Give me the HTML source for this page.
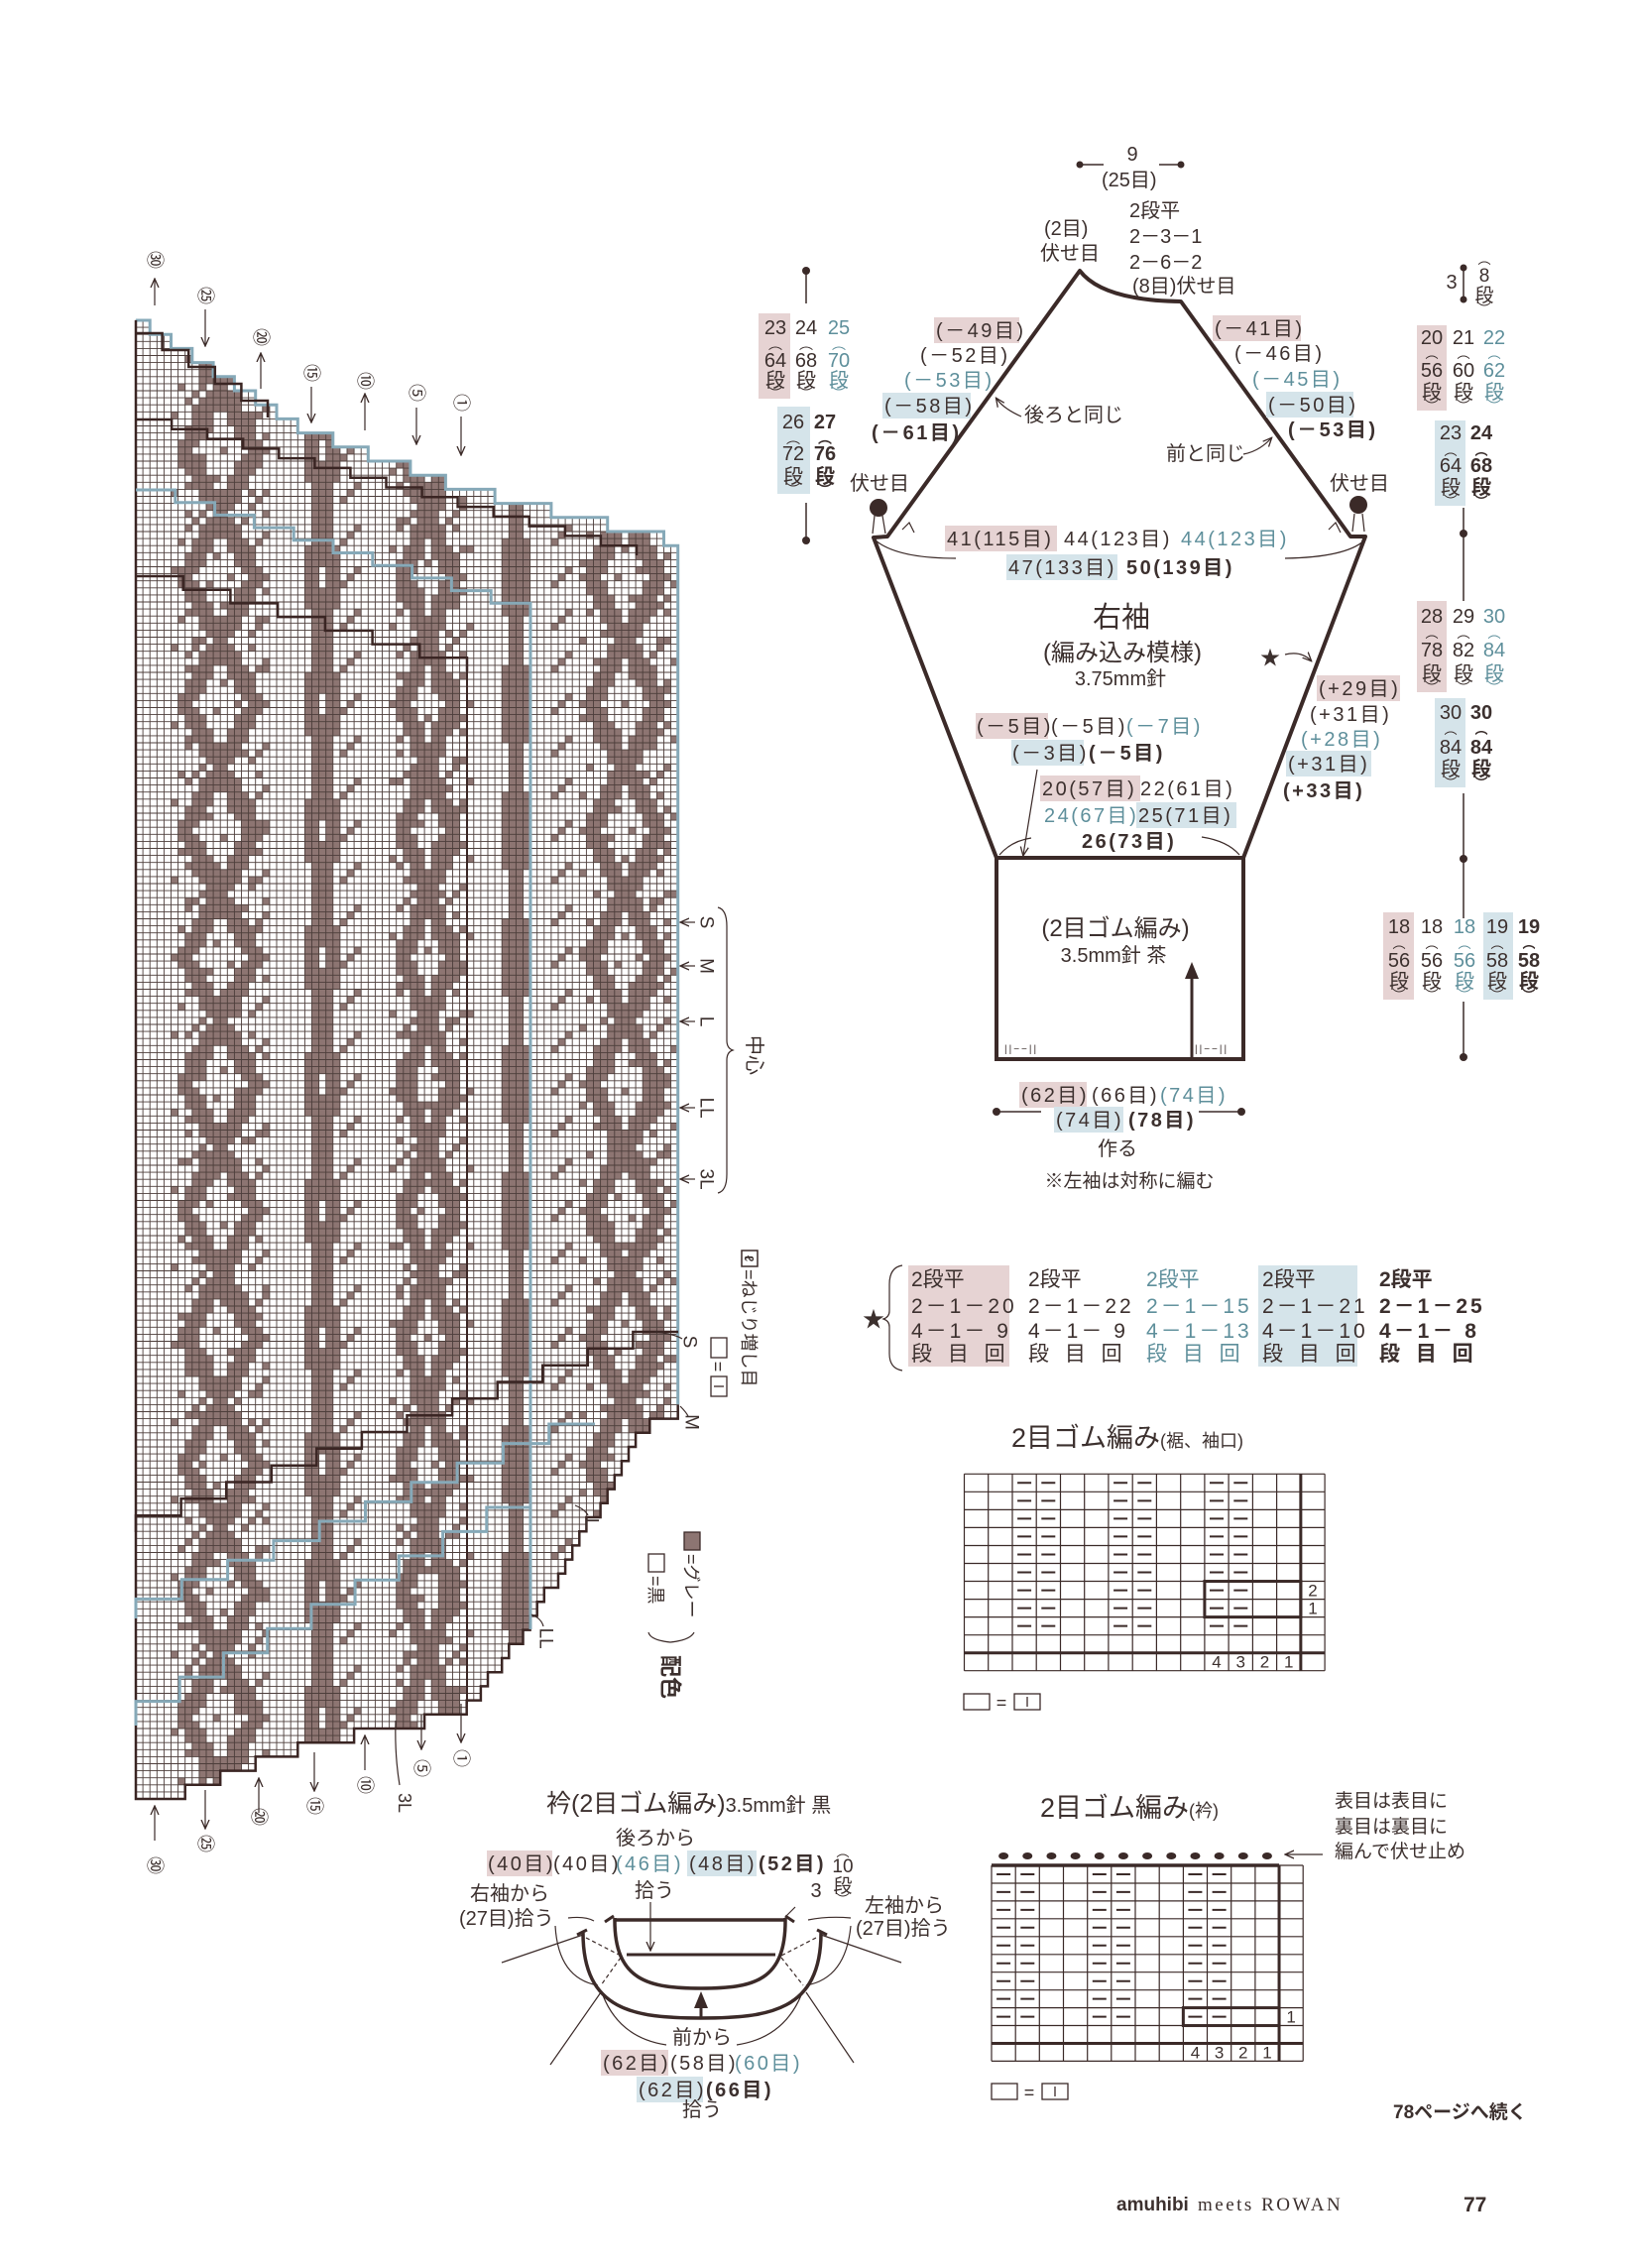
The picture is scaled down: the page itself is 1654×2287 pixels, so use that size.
<!DOCTYPE html>
<html><head><meta charset="utf-8">
<style>
html,body{margin:0;padding:0;background:#fff;}
svg{display:block;font-family:"Liberation Sans","Noto Sans CJK JP",sans-serif;font-size:20px;}
text{fill:#3c302e;}
.b{font-weight:bold;}
.bl{fill:#5e8f9b;}
.ls{letter-spacing:2.5px;}
.pk{fill:#e6d3d3;}
.bb{fill:#d5e4ea;}
.ln{stroke:#3b2a28;fill:none;}
.thin{stroke:#3b2a28;fill:none;stroke-width:1.2;}
.st{letter-spacing:3px;}
</style></head>
<body>
<svg id="pg" width="1654" height="2287" viewBox="0 0 1654 2287" xmlns="http://www.w3.org/2000/svg" font-size="20">
<defs>
<marker id="ah" markerWidth="10" markerHeight="10" refX="8" refY="5" orient="auto" markerUnits="userSpaceOnUse"><path d="M0,1 L9,5 L0,9" fill="none" stroke="#3b2a28" stroke-width="1.3"/></marker>
</defs>
<g id="chart"></g>

<g id="clabels">
<text transform="translate(156,262) rotate(90)" text-anchor="middle" dominant-baseline="central" font-size="18">㉚</text>
<text transform="translate(207,298) rotate(90)" text-anchor="middle" dominant-baseline="central" font-size="18">㉕</text>
<text transform="translate(263,340) rotate(90)" text-anchor="middle" dominant-baseline="central" font-size="18">⑳</text>
<text transform="translate(314,376) rotate(90)" text-anchor="middle" dominant-baseline="central" font-size="18">⑮</text>
<text transform="translate(368,384) rotate(90)" text-anchor="middle" dominant-baseline="central" font-size="18">⑩</text>
<text transform="translate(420,396) rotate(90)" text-anchor="middle" dominant-baseline="central" font-size="18">⑤</text>
<text transform="translate(465,406) rotate(90)" text-anchor="middle" dominant-baseline="central" font-size="18">①</text>
<line class="thin" x1="156" y1="308" x2="156" y2="282" marker-end="url(#ah)"/>
<line class="thin" x1="207" y1="312" x2="207" y2="348" marker-end="url(#ah)"/>
<line class="thin" x1="263" y1="392" x2="263" y2="357" marker-end="url(#ah)"/>
<line class="thin" x1="314" y1="390" x2="314" y2="425" marker-end="url(#ah)"/>
<line class="thin" x1="368" y1="434" x2="368" y2="398" marker-end="url(#ah)"/>
<line class="thin" x1="420" y1="411" x2="420" y2="447" marker-end="url(#ah)"/>
<line class="thin" x1="465" y1="420" x2="465" y2="458" marker-end="url(#ah)"/>

<text transform="translate(156,1881) rotate(90)" text-anchor="middle" dominant-baseline="central" font-size="18">㉚</text>
<text transform="translate(207,1859) rotate(90)" text-anchor="middle" dominant-baseline="central" font-size="18">㉕</text>
<text transform="translate(261,1832) rotate(90)" text-anchor="middle" dominant-baseline="central" font-size="18">⑳</text>
<text transform="translate(317,1821) rotate(90)" text-anchor="middle" dominant-baseline="central" font-size="18">⑮</text>
<text transform="translate(368,1800) rotate(90)" text-anchor="middle" dominant-baseline="central" font-size="18">⑩</text>
<text transform="translate(408,1818) rotate(90)" text-anchor="middle" dominant-baseline="central" font-size="18">3L</text>
<text transform="translate(425,1783) rotate(90)" text-anchor="middle" dominant-baseline="central" font-size="18">⑤</text>
<text transform="translate(465,1773) rotate(90)" text-anchor="middle" dominant-baseline="central" font-size="18">①</text>
<line class="thin" x1="156" y1="1856" x2="156" y2="1822" marker-end="url(#ah)"/>
<line class="thin" x1="207" y1="1805" x2="207" y2="1843" marker-end="url(#ah)"/>
<line class="thin" x1="261" y1="1828" x2="261" y2="1794" marker-end="url(#ah)"/>
<line class="thin" x1="317" y1="1767" x2="317" y2="1805" marker-end="url(#ah)"/>
<line class="thin" x1="368" y1="1785" x2="368" y2="1751" marker-end="url(#ah)"/>
<path class="thin" d="M403,1800 Q398,1770 399,1735"/>
<line class="thin" x1="425" y1="1729" x2="425" y2="1763" marker-end="url(#ah)"/>
<line class="thin" x1="465" y1="1718" x2="465" y2="1756" marker-end="url(#ah)"/>

<line class="thin" x1="701" y1="930" x2="687" y2="930" marker-end="url(#ah)"/>
<line class="thin" x1="701" y1="974" x2="687" y2="974" marker-end="url(#ah)"/>
<line class="thin" x1="701" y1="1030" x2="687" y2="1030" marker-end="url(#ah)"/>
<line class="thin" x1="701" y1="1117" x2="687" y2="1117" marker-end="url(#ah)"/>
<line class="thin" x1="701" y1="1189" x2="687" y2="1189" marker-end="url(#ah)"/>
<text transform="translate(712,930) rotate(90)" text-anchor="middle" dominant-baseline="central" font-size="19">S</text>
<text transform="translate(712,974) rotate(90)" text-anchor="middle" dominant-baseline="central" font-size="19">M</text>
<text transform="translate(712,1030) rotate(90)" text-anchor="middle" dominant-baseline="central" font-size="19">L</text>
<text transform="translate(712,1117) rotate(90)" text-anchor="middle" dominant-baseline="central" font-size="19">LL</text>
<text transform="translate(712,1189) rotate(90)" text-anchor="middle" dominant-baseline="central" font-size="19">3L</text>
<path class="thin" d="M724,915 Q733,917 733,934 L733,1049 Q733,1057 739,1059 Q733,1061 733,1069 L733,1184 Q733,1201 724,1203"/>
<text transform="translate(760,1064) rotate(90)" text-anchor="middle" dominant-baseline="central" font-size="20">中心</text>

<path class="thin" d="M660,1343 Q680,1345 688,1350"/>
<text transform="translate(695,1353) rotate(90)" text-anchor="middle" dominant-baseline="central" font-size="19">S</text>
<g transform="translate(725,1382) rotate(90)">
<rect x="-33" y="-8" width="20" height="16" fill="none" stroke="#3b2a28" stroke-width="1.3"/>
<text x="-4" y="7" text-anchor="middle" font-size="18">=</text>
<rect x="6" y="-8" width="20" height="16" fill="none" stroke="#3b2a28" stroke-width="1.3"/>
<line x1="16" y1="-5" x2="16" y2="5" stroke="#3b2a28" stroke-width="1.3"/>
</g>
<g transform="translate(756,1338) rotate(90)">
<rect x="-77" y="-8" width="16" height="16" fill="none" stroke="#3b2a28" stroke-width="1.5"/>
<text x="-69" y="5" text-anchor="middle" font-size="13" class="b">ℓ</text>
<text x="-58" y="7" font-size="18">=ねじり増し目</text>
</g>
<path class="thin" d="M686,1418 Q692,1424 694,1428"/>
<text transform="translate(697,1434) rotate(90)" text-anchor="middle" dominant-baseline="central" font-size="19">M</text>
<path class="thin" d="M580,1518 Q590,1522 593,1528"/>
<text transform="translate(596,1536) rotate(90)" text-anchor="middle" dominant-baseline="central" font-size="19">L</text>
<path class="thin" d="M536,1628 Q546,1632 548,1640"/>
<text transform="translate(550,1652) rotate(90)" text-anchor="middle" dominant-baseline="central" font-size="19">LL</text>

<g transform="translate(662,1605) rotate(90)">
<rect x="-38" y="-8" width="18" height="16" fill="none" stroke="#3b2a28" stroke-width="1.3"/>
<text x="-16" y="7" font-size="18">=黒</text>
</g>
<g transform="translate(698,1594) rotate(90)">
<rect x="-49" y="-8" width="18" height="16" fill="#8d7572" stroke="#3b2a28" stroke-width="1.3"/>
<text x="-27" y="7" font-size="18">=グレー</text>
</g>
<path class="thin" d="M654,1646 Q656,1654 676,1656 Q696,1654 700,1646"/>
<text transform="translate(676,1691) rotate(90)" text-anchor="middle" dominant-baseline="central" font-size="22" class="b">配色</text>
</g>

<circle cx="813" cy="273" r="4" fill="#3b2a28"/><line class="ln" x1="813" y1="273" x2="813" y2="306" stroke-width="1.5"/>
<line class="ln" x1="813" y1="507" x2="813" y2="545" stroke-width="1.5"/><circle cx="813" cy="545" r="4" fill="#3b2a28"/>
<rect class="pk" x="765" y="316" width="32" height="86"/>
<rect class="bb" x="784" y="410" width="33" height="88"/>
<g font-size="20" text-anchor="middle">
<text x="782" y="337">23</text><text x="782" y="352" font-size="14">︵</text><text x="782" y="370">64</text><text x="782" y="390">段</text><text x="782" y="402" font-size="14">︶</text>
<text x="813" y="337">24</text><text x="813" y="352" font-size="14">︵</text><text x="813" y="370">68</text><text x="813" y="390">段</text><text x="813" y="402" font-size="14">︶</text>
<text x="846" y="337" class="bl">25</text><text x="846" y="352" font-size="14" class="bl">︵</text><text x="846" y="370" class="bl">70</text><text x="846" y="390" class="bl">段</text><text x="846" y="402" font-size="14" class="bl">︶</text>
<text x="800" y="432">26</text><text x="800" y="447" font-size="14">︵</text><text x="800" y="464">72</text><text x="800" y="487">段</text><text x="800" y="499" font-size="14">︶</text>
<text x="832" y="432" class="b">27</text><text x="832" y="447" font-size="14" class="b">︵</text><text x="832" y="464" class="b">76</text><text x="832" y="487" class="b">段</text><text x="832" y="499" font-size="14" class="b">︶</text>
</g>

<circle cx="1089" cy="166" r="3.5" fill="#3b2a28"/><line class="ln" x1="1089" y1="166" x2="1113" y2="166" stroke-width="1.5"/>
<circle cx="1191" cy="166" r="3.5" fill="#3b2a28"/><line class="ln" x1="1169" y1="166" x2="1191" y2="166" stroke-width="1.5"/>
<text x="1142" y="162" text-anchor="middle">9</text>
<text x="1111" y="188">(25目)</text>
<text x="1053" y="237">(2目)</text>
<text x="1049" y="262">伏せ目</text>
<text x="1139" y="219">2段平</text>
<text x="1139" y="245">2－3－1</text>
<text x="1139" y="271">2－6－2</text>
<text x="1142" y="295">(8目)伏せ目</text>

<path class="ln" stroke-width="4" stroke-linejoin="round" d="M881,542 L895,541 L1089,273 Q1112,303 1191,304 L1362,541 L1377,541 L1254,865 L1005,865 Z"/>
<rect class="ln" stroke-width="4" x="1005" y="865" width="249" height="203"/>
<circle cx="886" cy="512" r="9" fill="#3b2a28"/><circle cx="1370" cy="509" r="9" fill="#3b2a28"/>
<path class="thin" d="M882,520 L880,538 M890,520 L893,538 M1366,518 L1364,536 M1374,518 L1376,536"/>
<path class="thin" d="M883,545 Q905,563 964,563"/>
<path class="thin" d="M1296,563 Q1357,562 1376,545"/>
<path class="thin" d="M910,534 L917,527 L922,537 M1340,534 L1347,527 L1352,537"/>
<path class="thin" d="M1030,420 Q1012,412 1005,402" marker-end="url(#ah)"/>
<path class="thin" d="M1254,458 Q1270,455 1282,442" marker-end="url(#ah)"/>
<path class="thin" d="M1296,660 Q1312,656 1322,666" marker-end="url(#ah)"/>
<path class="thin" d="M1046,776 L1032,862" marker-end="url(#ah)"/>
<path class="thin" d="M1008,862 Q1020,848 1040,845 M1212,844 Q1238,848 1250,862"/>

<g class="ls">
<rect class="pk" x="942" y="320" width="86" height="26"/><text x="944" y="340">(－49目)</text>
<text x="928" y="365">(－52目)</text>
<text x="912" y="390" class="bl">(－53目)</text>
<rect class="bb" x="890" y="396" width="89" height="26"/><text x="892" y="416">(－58目)</text>
<text x="879" y="443" class="b">(－61目)</text>
<rect class="pk" x="1223" y="318" width="89" height="26"/><text x="1225" y="338">(－41目)</text>
<text x="1245" y="363">(－46目)</text>
<text x="1263" y="389" class="bl">(－45目)</text>
<rect class="bb" x="1277" y="395" width="88" height="26"/><text x="1279" y="415">(－50目)</text>
<text x="1299" y="440" class="b">(－53目)</text>
<rect class="pk" x="953" y="530" width="113" height="26"/><text x="955" y="550">41(115目)</text>
<text x="1073" y="550">44(123目)</text>
<text x="1191" y="550" class="bl">44(123目)</text>
<rect class="bb" x="1015" y="559" width="112" height="26"/><text x="1017" y="579">47(133目)</text>
<text x="1136" y="579" class="b">50(139目)</text>
<rect class="pk" x="1328" y="681" width="84" height="26"/><text x="1330" y="701">(+29目)</text>
<text x="1321" y="727">(+31目)</text>
<text x="1312" y="752" class="bl">(+28目)</text>
<rect class="bb" x="1297" y="757" width="86" height="26"/><text x="1299" y="777">(+31目)</text>
<text x="1294" y="804" class="b">(+33目)</text>
<rect class="pk" x="984" y="719" width="73" height="26"/><text x="985" y="739">(－5目)</text>
<text x="1060" y="739">(－5目)</text>
<text x="1136" y="739" class="bl">(－7目)</text>
<rect class="bb" x="1020" y="746" width="73" height="26"/><text x="1021" y="766">(－3目)</text>
<text x="1098" y="766" class="b">(－5目)</text>
<rect class="pk" x="1049" y="782" width="101" height="26"/><text x="1051" y="802">20(57目)</text>
<text x="1150" y="802">22(61目)</text>
<text x="1053" y="829" class="bl">24(67目)</text>
<rect class="bb" x="1146" y="809" width="101" height="26"/><text x="1148" y="829">25(71目)</text>
<text x="1091" y="855" class="b">26(73目)</text>
</g>
<text x="1033" y="425">後ろと同じ</text>
<text x="1176" y="464">前と同じ</text>
<text x="857" y="494">伏せ目</text>
<text x="1341" y="494">伏せ目</text>
<text x="1131" y="632" text-anchor="middle" font-size="29">右袖</text>
<text x="1132" y="666" text-anchor="middle" font-size="24">(編み込み模様)</text>
<text x="1130" y="691" text-anchor="middle">3.75mm針</text>
<text x="1281" y="670" text-anchor="middle">★</text>

<text x="1125" y="944" text-anchor="middle" font-size="24">(2目ゴム編み)</text>
<text x="1123" y="970" text-anchor="middle">3.5mm針 茶</text>
<line class="ln" x1="1202" y1="1066" x2="1202" y2="985" stroke-width="3"/>
<path d="M1195,987 L1202,970 L1209,987 Z" fill="#3b2a28"/>
<text x="1013" y="1061" font-size="10" letter-spacing="2">||−−||</text>
<text x="1205" y="1061" font-size="10" letter-spacing="2">||−−||</text>

<circle cx="1005" cy="1121" r="4" fill="#3b2a28"/><line class="ln" x1="1005" y1="1121" x2="1050" y2="1121" stroke-width="1.5"/>
<circle cx="1252" cy="1121" r="4" fill="#3b2a28"/><line class="ln" x1="1209" y1="1121" x2="1252" y2="1121" stroke-width="1.5"/>
<g class="ls">
<rect class="pk" x="1028" y="1091" width="68" height="26"/><text x="1030" y="1111">(62目)</text>
<text x="1101" y="1111">(66目)</text>
<text x="1170" y="1111" class="bl">(74目)</text>
<rect class="bb" x="1063" y="1116" width="70" height="26"/><text x="1065" y="1136">(74目)</text>
<text x="1138" y="1136" class="b">(78目)</text>
</g>
<text x="1127" y="1165" text-anchor="middle">作る</text>
<text x="1139" y="1197" text-anchor="middle" font-size="19">※左袖は対称に編む</text>

<g stroke="#3b2a28" stroke-width="1.5">
<line x1="1476" y1="270" x2="1476" y2="304"/>
<line x1="1476" y1="512" x2="1476" y2="606"/>
<line x1="1476" y1="800" x2="1476" y2="926"/>
<line x1="1476" y1="1010" x2="1476" y2="1066"/>
</g>
<g fill="#3b2a28"><circle cx="1476" cy="270" r="3.5"/><circle cx="1476" cy="302" r="3.5"/><circle cx="1476" cy="538" r="4"/><circle cx="1476" cy="866" r="4"/><circle cx="1476" cy="1066" r="4"/></g>
<text x="1464" y="291" text-anchor="middle">3</text>
<g text-anchor="middle" font-size="19">
<text x="1497" y="266" font-size="13">︵</text><text x="1497" y="284">8</text><text x="1497" y="304">段</text><text x="1497" y="316" font-size="13">︶</text>
</g>
<rect class="pk" x="1429" y="328" width="30" height="86"/>
<rect class="bb" x="1447" y="424" width="31" height="86"/>
<rect class="pk" x="1429" y="606" width="30" height="92"/>
<rect class="bb" x="1447" y="704" width="31" height="90"/>
<rect class="pk" x="1395" y="920" width="31" height="88"/>
<rect class="bb" x="1496" y="920" width="30" height="88"/>
<g text-anchor="middle" font-size="20">
<text x="1444" y="347">20</text><text x="1444" y="361" font-size="13">︵</text><text x="1444" y="380">56</text><text x="1444" y="402">段</text><text x="1444" y="414" font-size="13">︶</text>
<text x="1476" y="347">21</text><text x="1476" y="361" font-size="13">︵</text><text x="1476" y="380">60</text><text x="1476" y="402">段</text><text x="1476" y="414" font-size="13">︶</text>
<text x="1507" y="347" class="bl">22</text><text x="1507" y="361" font-size="13" class="bl">︵</text><text x="1507" y="380" class="bl">62</text><text x="1507" y="402" class="bl">段</text><text x="1507" y="414" font-size="13" class="bl">︶</text>
<text x="1463" y="443">23</text><text x="1463" y="459" font-size="13">︵</text><text x="1463" y="476">64</text><text x="1463" y="498">段</text><text x="1463" y="510" font-size="13">︶</text>
<text x="1494" y="443" class="b">24</text><text x="1494" y="459" font-size="13" class="b">︵</text><text x="1494" y="476" class="b">68</text><text x="1494" y="498" class="b">段</text><text x="1494" y="510" font-size="13" class="b">︶</text>
<text x="1444" y="628">28</text><text x="1444" y="643" font-size="13">︵</text><text x="1444" y="662">78</text><text x="1444" y="686">段</text><text x="1444" y="698" font-size="13">︶</text>
<text x="1476" y="628">29</text><text x="1476" y="643" font-size="13">︵</text><text x="1476" y="662">82</text><text x="1476" y="686">段</text><text x="1476" y="698" font-size="13">︶</text>
<text x="1507" y="628" class="bl">30</text><text x="1507" y="643" font-size="13" class="bl">︵</text><text x="1507" y="662" class="bl">84</text><text x="1507" y="686" class="bl">段</text><text x="1507" y="698" font-size="13" class="bl">︶</text>
<text x="1463" y="725">30</text><text x="1463" y="740" font-size="13">︵</text><text x="1463" y="760">84</text><text x="1463" y="782">段</text><text x="1463" y="794" font-size="13">︶</text>
<text x="1494" y="725" class="b">30</text><text x="1494" y="740" font-size="13" class="b">︵</text><text x="1494" y="760" class="b">84</text><text x="1494" y="782" class="b">段</text><text x="1494" y="794" font-size="13" class="b">︶</text>
<text x="1411" y="941">18</text><text x="1411" y="956" font-size="13">︵</text><text x="1411" y="975">56</text><text x="1411" y="996">段</text><text x="1411" y="1008" font-size="13">︶</text>
<text x="1444" y="941">18</text><text x="1444" y="956" font-size="13">︵</text><text x="1444" y="975">56</text><text x="1444" y="996">段</text><text x="1444" y="1008" font-size="13">︶</text>
<text x="1477" y="941" class="bl">18</text><text x="1477" y="956" font-size="13" class="bl">︵</text><text x="1477" y="975" class="bl">56</text><text x="1477" y="996" class="bl">段</text><text x="1477" y="1008" font-size="13" class="bl">︶</text>
<text x="1510" y="941">19</text><text x="1510" y="956" font-size="13">︵</text><text x="1510" y="975">58</text><text x="1510" y="996">段</text><text x="1510" y="1008" font-size="13">︶</text>
<text x="1542" y="941" class="b">19</text><text x="1542" y="956" font-size="13" class="b">︵</text><text x="1542" y="975" class="b">58</text><text x="1542" y="996" class="b">段</text><text x="1542" y="1008" font-size="13" class="b">︶</text>
</g>

<rect class="pk" x="916" y="1276" width="102" height="102"/>
<rect class="bb" x="1269" y="1276" width="100" height="102"/>
<text x="881" y="1338" text-anchor="middle" font-size="22">★</text>
<path class="thin" d="M910,1276 Q897,1278 897,1295 L897,1322 Q897,1328 891,1330 Q897,1332 897,1338 L897,1365 Q897,1380 910,1382"/>
<g font-size="21">
<text x="919" y="1297">2段平</text><text x="919" y="1324" class="st">2－1－20</text><text x="919" y="1349" class="st">4－1－ 9</text><text x="919" y="1372" word-spacing="10">段 目 回</text>
<text x="1037" y="1297">2段平</text><text x="1037" y="1324" class="st">2－1－22</text><text x="1037" y="1349" class="st">4－1－ 9</text><text x="1037" y="1372" word-spacing="10">段 目 回</text>
<text x="1156" y="1297" class="bl">2段平</text><text x="1156" y="1324" class="bl st">2－1－15</text><text x="1156" y="1349" class="bl st">4－1－13</text><text x="1156" y="1372" class="bl" word-spacing="10">段 目 回</text>
<text x="1273" y="1297">2段平</text><text x="1273" y="1324" class="st">2－1－21</text><text x="1273" y="1349" class="st">4－1－10</text><text x="1273" y="1372" word-spacing="10">段 目 回</text>
<text x="1391" y="1297" class="b">2段平</text><text x="1391" y="1324" class="b st">2－1－25</text><text x="1391" y="1349" class="b st">4－1－ 8</text><text x="1391" y="1372" class="b" word-spacing="10">段 目 回</text>
</g>

<text x="1020" y="1459" font-size="27">2目ゴム編み<tspan font-size="18">(裾、袖口)</tspan></text>
<g id="rib1"></g>
<g transform="translate(972,1716)">
<rect x="0" y="-8" width="26" height="16" fill="none" stroke="#3b2a28" stroke-width="1.3"/>
<text x="38" y="7" text-anchor="middle" font-size="18">=</text>
<rect x="51" y="-8" width="26" height="16" fill="none" stroke="#3b2a28" stroke-width="1.3"/>
<line x1="64" y1="-5" x2="64" y2="5" stroke="#3b2a28" stroke-width="1.3"/>
</g>
<text x="1049" y="1832" font-size="27">2目ゴム編み<tspan font-size="18">(衿)</tspan></text>
<text x="1346" y="1822" font-size="19">表目は表目に</text>
<text x="1346" y="1848" font-size="19">裏目は裏目に</text>
<text x="1346" y="1873" font-size="19">編んで伏せ止め</text>
<line class="thin" x1="1334" y1="1870" x2="1297" y2="1870" marker-end="url(#ah)"/>
<g id="rib2"></g>
<g transform="translate(1000,2109)">
<rect x="0" y="-8" width="26" height="16" fill="none" stroke="#3b2a28" stroke-width="1.3"/>
<text x="38" y="7" text-anchor="middle" font-size="18">=</text>
<rect x="51" y="-8" width="26" height="16" fill="none" stroke="#3b2a28" stroke-width="1.3"/>
<line x1="64" y1="-5" x2="64" y2="5" stroke="#3b2a28" stroke-width="1.3"/>
</g>

<text x="551" y="1827" font-size="25">衿(2目ゴム編み)<tspan font-size="20">3.5mm針 黒</tspan></text>
<text x="661" y="1860" text-anchor="middle">後ろから</text>
<g class="ls">
<rect class="pk" x="491" y="1866" width="66" height="26"/><text x="492" y="1886">(40目)</text>
<text x="558" y="1886">(40目)</text>
<text x="621" y="1886" class="bl">(46目)</text>
<rect class="bb" x="693" y="1866" width="70" height="26"/><text x="695" y="1886">(48目)</text>
<text x="765" y="1886" class="b">(52目)</text>
<rect class="pk" x="606" y="2067" width="68" height="26"/><text x="608" y="2087">(62目)</text>
<text x="676" y="2087">(58目)</text>
<text x="741" y="2087" class="bl">(60目)</text>
<rect class="bb" x="642" y="2094" width="67" height="26"/><text x="644" y="2114">(62目)</text>
<text x="712" y="2114" class="b">(66目)</text>
</g>
<text x="660" y="1913" text-anchor="middle">拾う</text>
<text x="514" y="1916" text-anchor="middle">右袖から</text>
<text x="463" y="1941">(27目)拾う</text>
<text x="912" y="1928" text-anchor="middle">左袖から</text>
<text x="863" y="1951">(27目)拾う</text>
<text x="823" y="1913" text-anchor="middle">3</text>
<g text-anchor="middle"><text x="850" y="1872" font-size="13">︵</text><text x="850" y="1888" font-size="19">10</text><text x="850" y="1908" font-size="19">段</text><text x="850" y="1920" font-size="13">︶</text></g>
<text x="708" y="2061" text-anchor="middle">前から</text>
<text x="708" y="2134" text-anchor="middle">拾う</text>

<path class="ln" stroke-width="3.5" d="M619,1936 L792,1936"/>
<path class="ln" stroke-width="3.5" d="M620,1934 C619,1998 655,2005 707,2005 C760,2005 793,1998 792,1934"/>
<path class="ln" stroke-width="3" d="M632,1971 L782,1971"/>
<path class="ln" stroke-width="3.5" d="M588,1949 C588,2028 640,2035 707,2035 C775,2035 828,2028 828,1949"/>
<path class="ln" stroke-width="3" d="M610,1938 L619,1932 M582,1951 L592,1946 M801,1938 L792,1932 M834,1951 L824,1946"/>
<line class="ln" x1="707" y1="2035" x2="707" y2="2020" stroke-width="3"/>
<path d="M700,2025 L707,2008 L714,2025 Z" fill="#3b2a28"/>
<line class="thin" x1="656" y1="1918" x2="656" y2="1966" marker-end="url(#ah)"/>
<path class="thin" stroke-dasharray="4,3" d="M591,1954 L626,1972 M626,1974 L606,2002 M823,1954 L788,1972 M788,1974 L810,2002"/>
<path class="thin" d="M506,1979 L588,1951 M555,2082 L606,2009 M828,1951 L909,1979 M813,2009 L861,2080"/>
<path class="thin" d="M560,1942 Q563,1995 603,2002 M608,2012 Q625,2055 672,2062 M743,2062 Q790,2055 808,2012 M858,1942 Q853,1995 813,2002"/>
<path class="thin" d="M573,1934 Q590,1932 599,1937 M815,1936 Q835,1932 858,1934 M802,1923 L792,1933"/>

<text x="1405" y="2136" font-size="19" class="b">78ページへ続く</text>
<text x="1126" y="2229" font-size="19" class="b">amuhibi</text>
<text x="1208" y="2229" font-size="19" letter-spacing="2.5" style="font-family:'Liberation Serif',serif">meets ROWAN</text>
<text x="1476" y="2230" font-size="21" class="b">77</text>
</svg>

<script>
(function(){
var NS='http://www.w3.org/2000/svg';
function el(parent,tag,attrs){var e=document.createElementNS(NS,tag);for(var k in attrs)e.setAttribute(k,attrs[k]);parent.appendChild(e);return e;}
var chart=document.getElementById('chart');
var s=7.1,X0=137,Y0=323,NR=210;
function lerp(pts,r){for(var i=0;i<pts.length-1;i++){var a=pts[i][0],b=pts[i][1],c=pts[i+1][0],d=pts[i+1][1];if(r>=a&&r<=c)return b+(d-b)*(r-a)/(c-a);}return pts[pts.length-1][1];}
var topP=[[0,1],[15.5,24],[24,47],[28.5,65],[31.5,77]];
var botP=[[154,77],[157,71],[169,65],[184,56],[196.5,47],[198,41],[201,26],[205,14],[209,4]];
function lim(r){
 if(r<32){var rr=Math.floor(r/2)*2;return Math.max(1,Math.min(77,Math.round(lerp(topP,rr+1))));}
 if(r<154)return 77;
 var q=Math.floor((r-154)/2)*2+154;return Math.max(2,Math.round(lerp(botP,q)));
}
function tri(t){t=t-Math.floor(t);return t<0.5?4*t-1:3-4*t;}
var bands=[[12,5,1.4],[26.5,1.5,1.3],[41.5,3.5,1.4],[54,1.2,1.0],[69.5,5,1.5]];
var dots=[8,17,30,38,45,60,74];
function brown(r,c){
 var z=tri(r/36);
 for(var i=0;i<bands.length;i++){var cc=bands[i][0],a=bands[i][1],w=bands[i][2];
  if(Math.abs(c+0.5-(cc+a*z))<w)return true;
  if(Math.abs(c+0.5-(cc-a*z))<w)return true;}
 if(((r+c)%6===0)){for(var j=0;j<dots.length;j++)if(Math.abs(c-dots[j])<2)return true;}
 if(((r*3+c)%11===0)&&((c>4&&c<19)||(c>35&&c<48)||(c>62))) return true;
 return false;
}
var g='',b='';
for(var r=0;r<NR;r++){var L=lim(r),y=(Y0+r*s).toFixed(1);
 for(var c=0;c<L;c++){var x=(X0+c*s).toFixed(1);var cell='M'+x+' '+y+'h'+s+'v'+s+'h-'+s+'z';g+=cell;if(brown(r,c))b+=cell;}}
el(chart,'path',{d:b,fill:'#8d7572'});
el(chart,'path',{d:g,fill:'none',stroke:'#4d3e3b','stroke-width':'0.9'});
var top='M'+X0+' '+Y0;
for(var r2=0;r2<154;r2++){var xx=(X0+lim(r2)*s).toFixed(1);top+=' L'+xx+' '+(Y0+r2*s).toFixed(1)+' L'+xx+' '+(Y0+(r2+1)*s).toFixed(1);}
el(chart,'path',{d:top,fill:'none',stroke:'#86a9b8','stroke-width':'3'});
var bot='M'+(X0+77*s).toFixed(1)+' '+(Y0+154*s).toFixed(1);
for(var r3=154;r3<NR;r3++){var x3=(X0+lim(r3)*s).toFixed(1);bot+=' L'+x3+' '+(Y0+r3*s).toFixed(1)+' L'+x3+' '+(Y0+(r3+1)*s).toFixed(1);}
bot+=' L'+X0+' '+(Y0+NR*s).toFixed(1)+' L'+X0+' '+Y0;
el(chart,'path',{d:bot,fill:'none',stroke:'#3a2523','stroke-width':'2.5'});
function stair(x1,y1,x2,y2,n,col,w){var d='M'+x1+' '+y1,dx=(x2-x1)/n,dy=(y2-y1)/n,x=x1,y=y1;for(var i=0;i<n;i++){x+=dx;d+=' H'+x.toFixed(1);y+=dy;d+=' V'+y.toFixed(1);}el(chart,'path',{d:d,fill:'none',stroke:col,'stroke-width':w});}
var DK='#3a2523',BL='#86a9b8';
stair(137,336,270,421,5,DK,2.5);
stair(137,423,642,560,14,DK,2.5);
stair(137,494,535,621,10,BL,3);
el(chart,'line',{x1:535,y1:621,x2:535,y2:1643,stroke:BL,'stroke-width':3});
stair(137,581,471,677,7,DK,2.5);
el(chart,'line',{x1:471,y1:677,x2:471,y2:1718,stroke:DK,'stroke-width':2});
stair(684,1343,137,1545,12,DK,2.5);
stair(600,1436,137,1632,10,BL,3);
stair(535,1520,137,1740,9,BL,3);
function rib(id,x0,y0,cw,rh,nc,nr,dcols,drows,thickV,thickH,thickTop,box,lab,numRow,numCols,dotsRow){
 var p=document.getElementById(id);var d='';
 for(var i=0;i<=nc;i++)d+='M'+(x0+i*cw).toFixed(1)+' '+y0+'V'+(y0+nr*rh).toFixed(1);
 for(var j=0;j<=nr;j++)d+='M'+x0+' '+(y0+j*rh).toFixed(1)+'H'+(x0+nc*cw).toFixed(1);
 el(p,'path',{d:d,stroke:'#3b2a28','stroke-width':'1.2',fill:'none'});
 var tv=x0+thickV*cw,th=y0+thickH*rh;
 el(p,'line',{x1:tv,y1:y0,x2:tv,y2:y0+nr*rh,stroke:'#3b2a28','stroke-width':3});
 el(p,'line',{x1:x0,y1:th,x2:x0+nc*cw,y2:th,stroke:'#3b2a28','stroke-width':3});
 if(thickTop)el(p,'line',{x1:x0,y1:y0,x2:tv,y2:y0,stroke:'#3b2a28','stroke-width':3.5});
 var dd='';
 for(var r=0;r<drows;r++)for(var k=0;k<dcols.length;k++){var cx=x0+(dcols[k]+0.5)*cw,cy=y0+(r+0.5)*rh;dd+='M'+(cx-7).toFixed(1)+' '+cy.toFixed(1)+'H'+(cx+7).toFixed(1);}
 el(p,'path',{d:dd,stroke:'#3b2a28','stroke-width':'2',fill:'none'});
 el(p,'rect',{x:x0+box[0]*cw,y:y0+box[1]*rh,width:box[2]*cw,height:box[3]*rh,fill:'none',stroke:'#3b2a28','stroke-width':3});
 for(var m=0;m<lab.length;m++){var t=el(p,'text',{x:x0+(nc-0.5)*cw,y:y0+(lab[m][0]+0.5)*rh+6,'text-anchor':'middle','font-size':'17'});t.textContent=lab[m][1];}
 for(var n=0;n<4;n++){var t2=el(p,'text',{x:x0+(numCols+n+0.5)*cw,y:y0+(numRow+0.5)*rh+6,'text-anchor':'middle','font-size':'17'});t2.textContent=String(4-n);}
 if(dotsRow){for(var q=0;q<12;q++)el(p,'ellipse',{cx:x0+(q+0.5)*cw,cy:y0-9.5,rx:5,ry:3.5,fill:'#3b2a28'});}
}
rib('rib1',972.5,1486.3,24.24,18.04,15,11,[2,3,6,7,10,11],9,14,10,false,[10,6,4,2],[[6,'2'],[7,'1']],10,10,false);
rib('rib2',1000,1881,24.17,17.95,13,11,[0,1,4,5,8,9],9,12,10,true,[8,8,4,1],[[8,'1']],10,8,true);
})();
</script>
</body></html>
